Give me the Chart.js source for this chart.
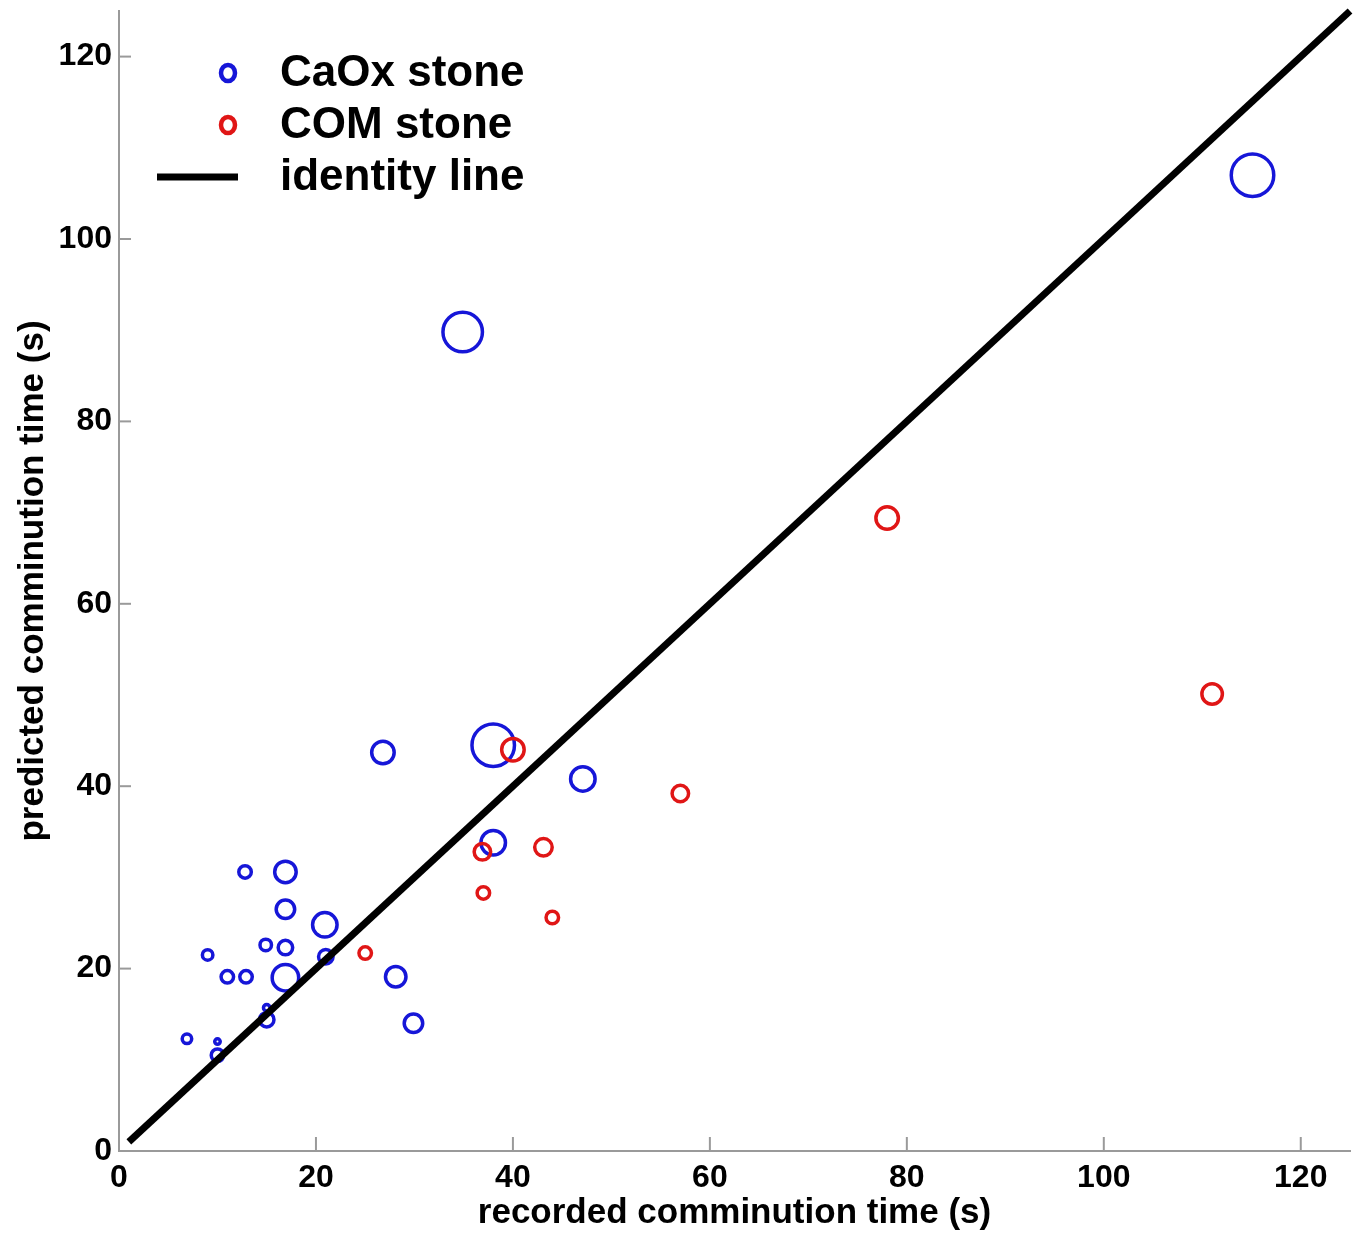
<!DOCTYPE html>
<html lang="en">
<head>
  <meta charset="UTF-8" />
  <title>Comminution time</title>
  <script src="https://cdn.jsdelivr.net/npm/chart.js"></script>
  <style>
    body {
      margin: 0;
      background: #ffffff;
    }
    #wrap {
      width: 1362px;
      height: 1234px;
    }
  </style>
</head>
<body>
  <div id="wrap"><canvas id="chart"></canvas></div>

  <script>
    // CaOx stone: recorded (x), predicted (y), marker radius
    const caoxX = [34.9, 115.1, 38.0, 38.0, 26.8, 47.1, 16.9, 12.8, 16.9, 20.9, 14.9, 16.9,
                   9.0, 21.0, 11.0, 12.9, 16.9, 28.1, 15.0, 15.0, 29.9, 6.9, 10.0, 10.0];
    const caoxY = [89.8, 107.0, 44.5, 33.8, 43.7, 40.8, 30.6, 30.6, 26.5, 24.8, 22.6, 22.3,
                   21.5, 21.3, 19.1, 19.1, 19.0, 19.1, 15.7, 14.4, 14.0, 12.3, 12.0, 10.5];
    const caoxR = [21.5, 23, 23, 14, 13, 14, 12.5, 8, 11, 14, 7.5, 9,
                   7, 9, 8, 8, 15, 12, 5, 9, 11, 6.5, 4.5, 8];

    // COM stone
    const comX = [78.0, 111.0, 40.0, 57.0, 43.1, 36.9, 37.0, 44.0, 25.0];
    const comY = [69.4, 50.1, 44.0, 39.2, 33.3, 32.8, 28.3, 25.6, 21.7];
    const comR = [13, 12, 13, 10, 10.5, 10, 8, 8, 8];

    const identityX = [1, 125];
    const xTicks = [0, 20, 40, 60, 80, 100, 120];
    const yTicks = [0, 20, 40, 60, 80, 100, 120];

    const blue = '#1616d8';
    const red = '#e01616';
    const axisGray = '#9a9a9a';
    const font = "'Liberation Sans', Arial, sans-serif";

    function pts(xs, ys) {
      return xs.map((x, i) => ({ x: x, y: ys[i] }));
    }

    // inward tick marks + legend inside the axes
    const extras = {
      id: 'extras',
      afterDraw(chart) {
        const c = chart.ctx;
        const xs = chart.scales.x, ys = chart.scales.y;
        const area = chart.chartArea;
        c.save();
        c.strokeStyle = axisGray;
        c.lineWidth = 2;
        xTicks.forEach(v => {
          if (v === 0) return;
          const px = xs.getPixelForValue(v);
          c.beginPath();
          c.moveTo(px, area.bottom);
          c.lineTo(px, area.bottom - 14);
          c.stroke();
        });
        yTicks.forEach(v => {
          if (v === 0) return;
          const py = ys.getPixelForValue(v);
          c.beginPath();
          c.moveTo(area.left, py);
          c.lineTo(area.left + 12, py);
          c.stroke();
        });

        // legend
        const ds = chart.data.datasets;
        const rows = [73, 125, 177];
        c.font = 'bold 44px ' + font;
        c.textBaseline = 'middle';
        c.textAlign = 'left';
        ds.forEach((d, i) => {
          const y = rows[i];
          if (d.type === 'line') {
            c.strokeStyle = d.borderColor;
            c.lineWidth = 7;
            c.beginPath();
            c.moveTo(157, y);
            c.lineTo(238, y);
            c.stroke();
          } else {
            c.strokeStyle = d.borderColor;
            c.lineWidth = 4.5;
            c.beginPath();
            c.ellipse(228, y, 7, 8, 0, 0, Math.PI * 2);
            c.stroke();
          }
          c.fillStyle = '#000';
          c.fillText(d.label, 280, y + 1);
        });
        c.restore();
      }
    };

    const ctx = document.getElementById('chart').getContext('2d');
    new Chart(ctx, {
      type: 'scatter',
      data: {
        datasets: [
          {
            label: 'CaOx stone',
            data: pts(caoxX, caoxY),
            borderColor: blue,
            backgroundColor: 'rgba(0,0,0,0)',
            borderWidth: 3.5,
            pointRadius: caoxR.map(r => r - 1.75),
            order: 2
          },
          {
            label: 'COM stone',
            data: pts(comX, comY),
            borderColor: red,
            backgroundColor: 'rgba(0,0,0,0)',
            borderWidth: 3.5,
            pointRadius: comR.map(r => r - 1.75),
            order: 1
          },
          {
            type: 'line',
            label: 'identity line',
            data: pts(identityX, identityX),
            borderColor: '#000',
            borderWidth: 7,
            pointRadius: 0,
            fill: false,
            clip: 6,
            order: 0
          }
        ]
      },
      options: {
        responsive: true,
        maintainAspectRatio: false,
        animation: false,
        events: [],
        layout: {
          autoPadding: false,
          padding: { left: 0, top: 11, right: 12, bottom: 0 }
        },
        plugins: {
          legend: { display: false },
          tooltip: { enabled: false }
        },
        scales: {
          x: {
            type: 'linear',
            min: 0,
            max: 125,
            afterFit(s) {
              s.height = 83;
              s.paddingLeft = 0;
              s.paddingRight = 0;
            },
            afterBuildTicks(s) { s.ticks = xTicks.map(v => ({ value: v })); },
            grid: { display: false, drawTicks: false },
            border: { display: true, color: axisGray, width: 2 },
            ticks: {
              color: '#000',
              padding: 8,
              maxRotation: 0,
              font: { family: font, size: 32, weight: 'bold' }
            },
            title: {
              display: true,
              text: 'recorded comminution time (s)',
              color: '#000',
              padding: { top: 0, bottom: 0 },
              font: { family: font, size: 35, weight: 'bold', lineHeight: 1.2 }
            }
          },
          y: {
            type: 'linear',
            min: 0,
            max: 125,
            afterFit(s) {
              s.width = 119;
              s.paddingTop = 0;
              s.paddingBottom = 0;
            },
            afterBuildTicks(s) { s.ticks = yTicks.map(v => ({ value: v })); },
            grid: { display: false, drawTicks: false },
            border: { display: true, color: axisGray, width: 2 },
            ticks: {
              color: '#000',
              padding: 7,
              font: { family: font, size: 32, weight: 'bold' }
            },
            title: {
              display: true,
              text: 'predicted comminution time (s)',
              color: '#000',
              padding: { top: 12, bottom: 0 },
              font: { family: font, size: 35, weight: 'bold', lineHeight: 1.2 }
            }
          }
        }
      },
      plugins: [extras]
    });
  </script>
</body>
</html>
